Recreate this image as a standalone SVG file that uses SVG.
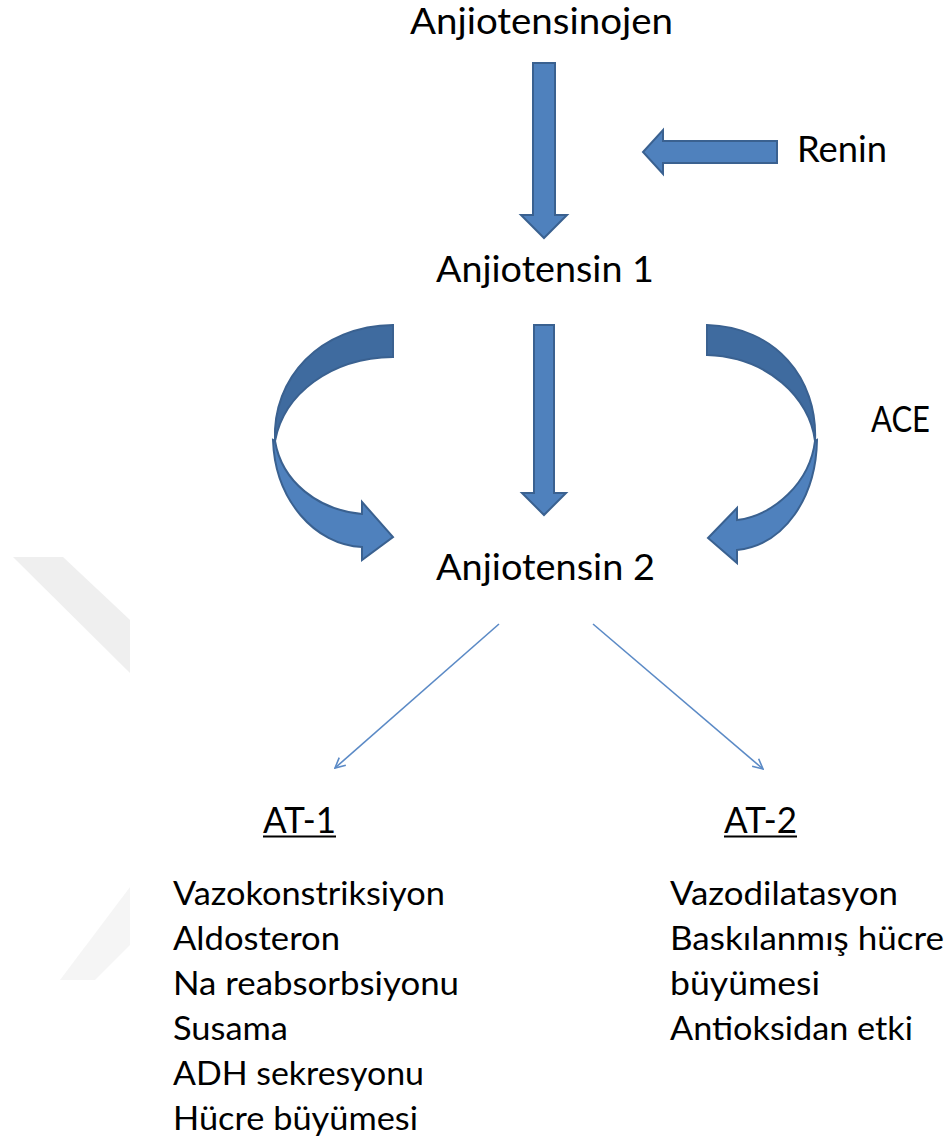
<svg xmlns="http://www.w3.org/2000/svg" width="946" height="1139" viewBox="0 0 946 1139">
<defs>
<style>
.t{font-family:Lato,"Liberation Sans",sans-serif;fill:#000;}
.h{font-size:36px;}
.l{font-size:33px;}
.blk{fill:#4F81BD;stroke:#3A6190;stroke-width:2;stroke-linejoin:miter;}
.drk{fill:#3F6B9F;stroke:#3A6190;stroke-width:2;}
.thin{stroke:#5B8AC6;stroke-width:1.6;fill:none;}
.wm{fill:#EFEFEF;}
</style>
<marker id="open" viewBox="0 0 12 12" refX="11" refY="6" markerWidth="12" markerHeight="12" markerUnits="userSpaceOnUse" orient="auto">
<path d="M1,1 L11,6 L1,11" fill="none" stroke="#5B8AC6" stroke-width="1.6"/>
</marker>
</defs>
<rect width="946" height="1139" fill="#fff"/>
<g id="watermark">
<polygon class="wm" points="13,557 63,557 130,620 130,673"/>
<polygon class="wm" points="130,887 130,945 95,980 60,980" opacity="0.6"/>
</g>
<g id="connectors">
<polygon id="arrow-top" class="blk" points="533,63 555,63 555,215 567,215 544,238 521,215 533,215"/>
<polygon id="arrow-renin" class="blk" points="777,141 663,141 663,130 643,152 663,174 663,163 777,163"/>
<polygon id="arrow-mid" class="blk" points="534,325 554,325 554,493 566,493 544,515 522,493 534,493"/>
<g id="curve-left">
<path class="drk" d="M393,325 L393,357 C330,358 284,394 275,441 C272,378 320,326 393,325 Z"/>
<path class="blk" d="M273,440 C275,500 315,545 362,547 L362,560 L393,537 L362,502 L362,514 C318,510 282,482 275,441 Z"/>
</g>
<g id="curve-right">
<path class="drk" d="M707,325 L707,355 C768,357 810,398 815,441 C818,378 775,327 707,325 Z"/>
<path class="blk" d="M817,440 C816,497 785,545 737,550 L737,563 L708,538 L737,508 L737,520 C775,515 810,482 815,441 Z"/>
</g>
<line class="thin" x1="499" y1="624" x2="335" y2="768" marker-end="url(#open)"/>
<line class="thin" x1="593" y1="624" x2="763" y2="769" marker-end="url(#open)"/>
</g>
<g id="n-anjiotensinojen"><text class="t h" x="410" y="34" textLength="263" lengthAdjust="spacingAndGlyphs">Anjiotensinojen</text></g>
<g id="n-renin"><text class="t h" x="797" y="162" textLength="90" lengthAdjust="spacingAndGlyphs">Renin</text></g>
<g id="n-anjiotensin1"><text class="t h" x="436" y="282" textLength="218" lengthAdjust="spacingAndGlyphs">Anjiotensin 1</text></g>
<g id="n-ace"><text class="t h" x="871" y="432" textLength="59" lengthAdjust="spacingAndGlyphs">ACE</text></g>
<g id="n-anjiotensin2"><text class="t h" x="436" y="580" textLength="219" lengthAdjust="spacingAndGlyphs">Anjiotensin 2</text></g>
<g id="n-at1">
<text class="t h" x="263" y="833" textLength="73" lengthAdjust="spacingAndGlyphs">AT-1</text>
<line x1="263" y1="836.5" x2="336" y2="836.5" stroke="#000" stroke-width="2"/>
</g>
<g id="n-at2">
<text class="t h" x="724" y="833" textLength="73" lengthAdjust="spacingAndGlyphs">AT-2</text>
<line x1="724" y1="836.5" x2="797" y2="836.5" stroke="#000" stroke-width="2"/>
</g>
<g id="n-at1-list">
<text class="t l" x="173" y="905" textLength="272" lengthAdjust="spacingAndGlyphs">Vazokonstriksiyon</text>
<text class="t l" x="173" y="950" textLength="167" lengthAdjust="spacingAndGlyphs">Aldosteron</text>
<text class="t l" x="173" y="995" textLength="286" lengthAdjust="spacingAndGlyphs">Na reabsorbsiyonu</text>
<text class="t l" x="173" y="1040" textLength="115" lengthAdjust="spacingAndGlyphs">Susama</text>
<text class="t l" x="173" y="1085" textLength="251" lengthAdjust="spacingAndGlyphs">ADH sekresyonu</text>
<text class="t l" x="173" y="1130" textLength="245" lengthAdjust="spacingAndGlyphs">Hücre büyümesi</text>
</g>
<g id="n-at2-list">
<text class="t l" x="670" y="905" textLength="228" lengthAdjust="spacingAndGlyphs">Vazodilatasyon</text>
<text class="t l" x="670" y="950" textLength="274" lengthAdjust="spacingAndGlyphs">Baskılanmış hücre</text>
<text class="t l" x="670" y="995" textLength="150" lengthAdjust="spacingAndGlyphs">büyümesi</text>
<text class="t l" x="670" y="1040" textLength="243" lengthAdjust="spacingAndGlyphs">Antioksidan etki</text>
</g>
</svg>
